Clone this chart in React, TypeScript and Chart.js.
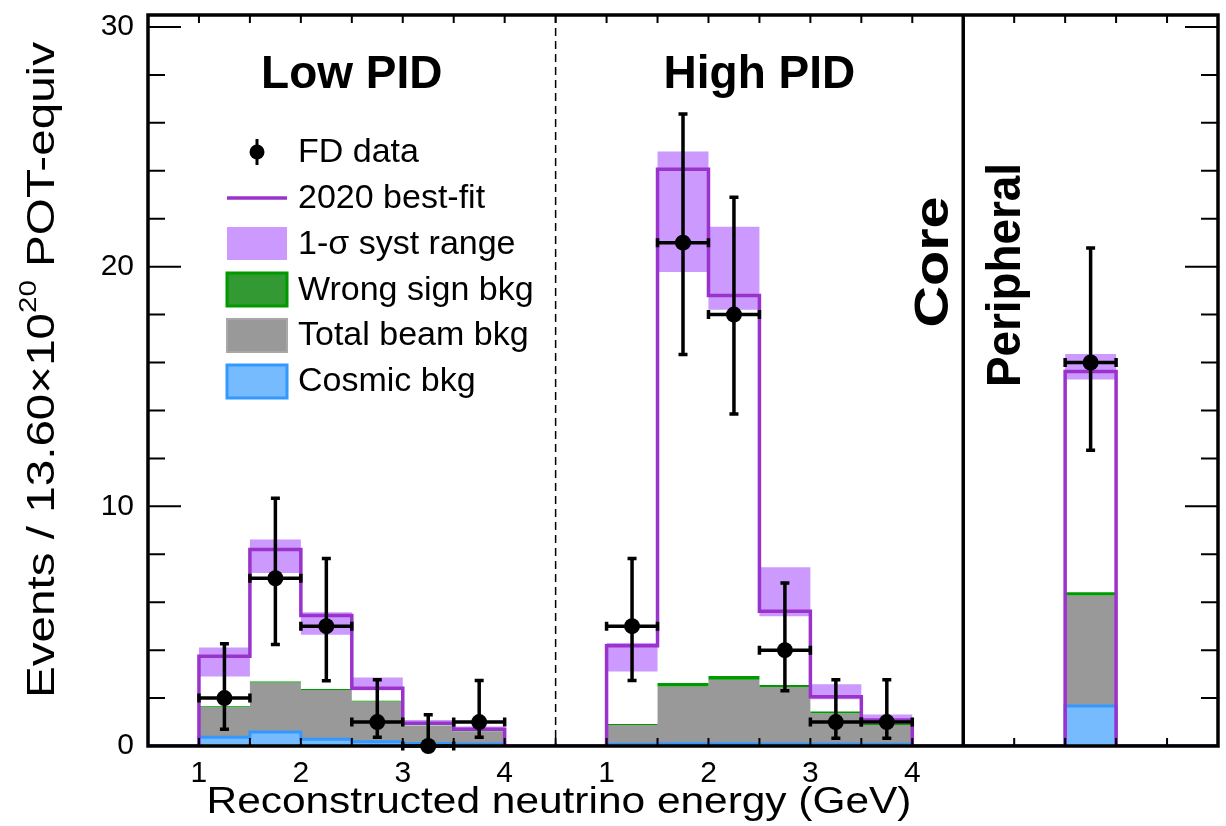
import React, { useEffect, useRef } from "react";
import { Chart, registerables } from "chart.js";

Chart.register(...registerables);

// ---------------- data ----------------
// energy bins (GeV): left edges, width 0.5
const binLowEdgesGeV = [1.0, 1.5, 2.0, 2.5, 3.0, 3.5];
const binWidthGeV = 0.5;
// offsets of the regions on the combined axis
const lowPidOffset = -0.5;
const highPidOffset = 3.5;
const peripheralBinStart = 9.0;
const axisMax = 10.5;

// 2020 best fit prediction
const lowBestFit = [3.74, 8.2, 5.44, 2.41, 0.95, 0.7];
const highBestFit = [4.18, 24.06, 18.8, 5.62, 2.06, 1.09];
const periphBestFit = 15.63;

// 1-sigma syst range
const lowSystUp = [4.11, 8.62, 5.58, 2.86, 1.09, 0.81];
const lowSystDown = [2.9, 7.22, 4.64, 2.33, 0.9, 0.62];
const highSystUp = [4.3, 24.8, 21.66, 7.46, 2.58, 1.31];
const highSystDown = [3.11, 19.78, 18.2, 5.41, 1.95, 1.0];
const periphSystUp = 16.36;
const periphSystDown = 15.29;

// total beam background
const lowBeamBkg = [1.62, 2.65, 2.34, 1.86, 0.84, 0.6];
const highBeamBkg = [0.88, 2.48, 2.76, 2.46, 1.37, 0.88];
const periphBeamBkg = 6.28;

// wrong sign background (thin layer on top of beam bkg)
const lowWrongSign = [0.04, 0.04, 0.04, 0.03, 0.02, 0.02];
const highWrongSign = [0.04, 0.15, 0.16, 0.08, 0.07, 0.05];
const periphWrongSign = 0.13;

// cosmic background
const lowCosmic = [0.36, 0.58, 0.28, 0.18, 0.1, 0.08];
const highCosmic = [0.07, 0.09, 0.09, 0.08, 0.08, 0.07];
const periphCosmic = 1.67;

// FD data with asymmetric error bounds
const lowData = [2, 7, 5, 1, 0, 1];
const lowDataHi = [4.27, 10.34, 7.82, 2.76, 1.3, 2.73];
const lowDataLo = [0.7, 4.23, 2.72, 0.36, 0, 0.36];
const highData = [5, 21, 18, 4, 1, 1];
const highDataHi = [7.82, 26.37, 22.9, 6.8, 2.76, 2.76];
const highDataLo = [2.73, 16.33, 13.85, 2.31, 0.32, 0.32];
const periphData = 16;
const periphDataHi = 20.78;
const periphDataLo = 12.34;

// axis ticks
const xTickEnergies = [1, 2, 3, 4];
const xTickLabels = ["1", "2", "3", "4"];
const yTickValues = [0, 10, 20, 30];

// ---------------- helpers ----------------
const FONT = '"Liberation Sans", Arial, Helvetica, sans-serif';
const PURPLE = "#9933cc";
const BAND = "#cc99ff";
const GRAY = "#999999";
const GREEN = "#009900";
const BLUE_FILL = "#77bbff";
const BLUE_LINE = "#3399ff";

type P = { x: number; y: number };

function stepSeries(low: number[], high: number[], periph: number): P[] {
  const pts: P[] = [{ x: 0, y: 0 }];
  low.forEach((v, i) => pts.push({ x: binLowEdgesGeV[i] + lowPidOffset, y: v }));
  pts.push({ x: binLowEdgesGeV[low.length - 1] + binWidthGeV + lowPidOffset, y: 0 });
  high.forEach((v, i) => pts.push({ x: binLowEdgesGeV[i] + highPidOffset, y: v }));
  pts.push({ x: binLowEdgesGeV[high.length - 1] + binWidthGeV + highPidOffset, y: 0 });
  pts.push({ x: peripheralBinStart, y: periph });
  pts.push({ x: peripheralBinStart + binWidthGeV, y: 0 });
  pts.push({ x: axisMax, y: 0 });
  return pts;
}

const add = (a: number[], b: number[]) => a.map((v, i) => v + b[i]);

type EP = { x: number; y: number; hi: number; lo: number };
const dataPoints: EP[] = [
  ...lowData.map((v, i) => ({
    x: binLowEdgesGeV[i] + binWidthGeV / 2 + lowPidOffset,
    y: v,
    hi: lowDataHi[i],
    lo: lowDataLo[i],
  })),
  ...highData.map((v, i) => ({
    x: binLowEdgesGeV[i] + binWidthGeV / 2 + highPidOffset,
    y: v,
    hi: highDataHi[i],
    lo: highDataLo[i],
  })),
  { x: peripheralBinStart + binWidthGeV / 2, y: periphData, hi: periphDataHi, lo: periphDataLo },
];

const xTickPositions = [
  ...xTickEnergies.map((e) => e + lowPidOffset),
  ...xTickEnergies.map((e) => e + highPidOffset),
];
const xTickText = [...xTickLabels, ...xTickLabels];

type Part = { t: string; s: number; dy: number };

function drawParts(
  ctx: CanvasRenderingContext2D,
  parts: Part[],
  fs: number,
  weight: string,
  cx: number,
  cy: number,
  rot: number,
  target: number
) {
  ctx.save();
  ctx.translate(cx, cy);
  ctx.rotate(rot);
  const widths = parts.map((p) => {
    ctx.font = `${weight} ${fs * p.s}px ${FONT}`;
    return ctx.measureText(p.t).width;
  });
  const W = widths.reduce((a, b) => a + b, 0);
  const k = target > 0 ? target / W : 1;
  ctx.scale(k, 1);
  ctx.textAlign = "left";
  ctx.textBaseline = "alphabetic";
  ctx.fillStyle = "#000";
  let x = -W / 2;
  parts.forEach((p, i) => {
    ctx.font = `${weight} ${fs * p.s}px ${FONT}`;
    ctx.fillText(p.t, x, p.dy * fs);
    x += widths[i];
  });
  ctx.restore();
}

function drawErrorBars(chart: any) {
  const ctx: CanvasRenderingContext2D = chart.ctx;
  const xs = chart.scales.x;
  const ys = chart.scales.y;
  const cap = 4.5;
  ctx.save();
  ctx.strokeStyle = "#000";
  ctx.lineWidth = 3.5;
  ctx.lineCap = "butt";
  dataPoints.forEach((p) => {
    const cx = xs.getPixelForValue(p.x);
    const cy = ys.getPixelForValue(p.y);
    const xl = xs.getPixelForValue(p.x - binWidthGeV / 2);
    const xr = xs.getPixelForValue(p.x + binWidthGeV / 2);
    const yh = ys.getPixelForValue(p.hi);
    const yl = ys.getPixelForValue(p.lo);
    ctx.beginPath();
    ctx.moveTo(xl, cy);
    ctx.lineTo(xr, cy);
    ctx.moveTo(xl, cy - cap);
    ctx.lineTo(xl, cy + cap);
    ctx.moveTo(xr, cy - cap);
    ctx.lineTo(xr, cy + cap);
    ctx.moveTo(cx, yh);
    ctx.lineTo(cx, yl);
    ctx.moveTo(cx - cap, yh);
    ctx.lineTo(cx + cap, yh);
    if (p.lo < p.y) {
      ctx.moveTo(cx - cap, yl);
      ctx.lineTo(cx + cap, yl);
    }
    ctx.stroke();
  });
  ctx.restore();
}

const decorPlugin = {
  id: "decor",
  beforeDatasetDraw(chart: any, args: any) {
    if (args.index === 0) drawErrorBars(chart);
  },
  afterDatasetsDraw(chart: any) {
    const ctx: CanvasRenderingContext2D = chart.ctx;
    const { left, right, top, bottom } = chart.chartArea;
    const xs = chart.scales.x;
    const ys = chart.scales.y;
    ctx.save();
    // separators
    const xDash = xs.getPixelForValue(4);
    ctx.strokeStyle = "#000";
    ctx.lineWidth = 1.5;
    ctx.setLineDash([8, 5]);
    ctx.beginPath();
    ctx.moveTo(xDash, top);
    ctx.lineTo(xDash, bottom);
    ctx.stroke();
    ctx.setLineDash([]);
    const xSolid = xs.getPixelForValue(8);
    ctx.lineWidth = 3.5;
    ctx.beginPath();
    ctx.moveTo(xSolid, top);
    ctx.lineTo(xSolid, bottom);
    ctx.stroke();

    // ticks
    ctx.lineWidth = 2;
    ctx.beginPath();
    for (let v = 0.5; v < axisMax; v += 0.5) {
      const px = xs.getPixelForValue(v);
      ctx.moveTo(px, bottom);
      ctx.lineTo(px, bottom - 8);
      ctx.moveTo(px, top);
      ctx.lineTo(px, top + 8);
    }
    for (let v = 2; v <= 30; v += 2) {
      const py = ys.getPixelForValue(v);
      const len = v % 10 === 0 ? 33 : 17;
      ctx.moveTo(left, py);
      ctx.lineTo(left + len, py);
      ctx.moveTo(right, py);
      ctx.lineTo(right - len, py);
    }
    ctx.stroke();

    // frame
    ctx.lineWidth = 3.5;
    ctx.strokeRect(left, top, right - left, bottom - top);
    ctx.restore();
  },
  afterDraw(chart: any) {
    const ctx: CanvasRenderingContext2D = chart.ctx;
    const xs = chart.scales.x;
    ctx.save();
    ctx.fillStyle = "#000";
    ctx.textBaseline = "alphabetic";
    ctx.textAlign = "center";
    ctx.font = `bold 46px ${FONT}`;
    ctx.fillText("Low PID", xs.getPixelForValue(2.0), 88);
    ctx.fillText("High PID", xs.getPixelForValue(6.0), 88);

    drawParts(ctx, [{ t: "Core", s: 1, dy: 0 }], 48, "bold", 948, 262, -Math.PI / 2, 131);
    drawParts(ctx, [{ t: "Peripheral", s: 1, dy: 0 }], 48, "bold", 1020, 275, -Math.PI / 2, 224);

    // axis titles
    drawParts(
      ctx,
      [
        { t: "Events / 13.60\u00d710", s: 1, dy: 0 },
        { t: "20", s: 0.62, dy: -0.45 },
        { t: " POT-equiv", s: 1, dy: 0 },
      ],
      39,
      "normal",
      54,
      370,
      -Math.PI / 2,
      656
    );
    drawParts(
      ctx,
      [{ t: "Reconstructed neutrino energy (GeV)", s: 1, dy: 0 }],
      36,
      "normal",
      559,
      813,
      0,
      705
    );

    // legend
    const bx = 227;
    const bw = 60;
    const tx = 298;
    ctx.textAlign = "left";
    ctx.font = `34px ${FONT}`;
    // FD data
    ctx.strokeStyle = "#000";
    ctx.lineWidth = 3;
    ctx.beginPath();
    ctx.moveTo(257, 139);
    ctx.lineTo(257, 165);
    ctx.stroke();
    ctx.beginPath();
    ctx.arc(257, 152, 7.5, 0, Math.PI * 2);
    ctx.fill();
    ctx.fillText("FD data", tx, 162);
    // best fit
    ctx.strokeStyle = PURPLE;
    ctx.lineWidth = 3.5;
    ctx.beginPath();
    ctx.moveTo(bx, 198);
    ctx.lineTo(bx + bw, 198);
    ctx.stroke();
    ctx.fillText("2020 best-fit", tx, 208);
    // syst
    ctx.fillStyle = BAND;
    ctx.fillRect(bx, 227, bw, 33);
    ctx.fillStyle = "#000";
    ctx.fillText("1-\u03c3 syst range", tx, 254);
    // wrong sign
    ctx.fillStyle = "#339933";
    ctx.fillRect(bx, 273, bw, 33);
    ctx.strokeStyle = GREEN;
    ctx.lineWidth = 3;
    ctx.strokeRect(bx, 273, bw, 33);
    ctx.fillStyle = "#000";
    ctx.fillText("Wrong sign bkg", tx, 300);
    // total beam
    ctx.fillStyle = GRAY;
    ctx.fillRect(bx, 319, bw, 33);
    ctx.strokeStyle = "#a8a8a8";
    ctx.lineWidth = 2;
    ctx.strokeRect(bx, 319, bw, 33);
    ctx.fillStyle = "#000";
    ctx.fillText("Total beam bkg", tx, 345);
    // cosmic
    ctx.fillStyle = BLUE_FILL;
    ctx.fillRect(bx, 365, bw, 33);
    ctx.strokeStyle = BLUE_LINE;
    ctx.lineWidth = 3;
    ctx.strokeRect(bx, 365, bw, 33);
    ctx.fillStyle = "#000";
    ctx.fillText("Cosmic bkg", tx, 391);
    ctx.restore();
  },
};

export default function App() {
  const canvasRef = useRef<HTMLCanvasElement | null>(null);

  useEffect(() => {
    if (!canvasRef.current) return;
    const beam = stepSeries(lowBeamBkg, highBeamBkg, periphBeamBkg);
    const wrong = stepSeries(
      add(lowBeamBkg, lowWrongSign),
      add(highBeamBkg, highWrongSign),
      periphBeamBkg + periphWrongSign
    );
    const stepBase = {
      stepped: true as const,
      pointRadius: 0,
      pointHoverRadius: 0,
      tension: 0,
    };
    const chart = new Chart(canvasRef.current, {
      type: "line",
      data: {
        datasets: [
          {
            label: "FD data",
            data: dataPoints.map((p) => ({ x: p.x, y: p.y })),
            showLine: false,
            pointRadius: 8,
            pointHoverRadius: 8,
            pointBackgroundColor: "#000",
            pointBorderColor: "#000",
            pointBorderWidth: 0,
            borderColor: "#000",
            order: 0,
            clip: false as any,
          },
          {
            ...stepBase,
            label: "2020 best-fit",
            data: stepSeries(lowBestFit, highBestFit, periphBestFit),
            borderColor: PURPLE,
            borderWidth: 3.5,
            fill: false,
            order: 1,
          },
          {
            ...stepBase,
            label: "Cosmic bkg",
            data: stepSeries(lowCosmic, highCosmic, periphCosmic),
            borderColor: BLUE_LINE,
            borderWidth: 3,
            backgroundColor: BLUE_FILL,
            fill: "origin",
            order: 2,
          },
          {
            ...stepBase,
            label: "Wrong sign bkg",
            data: wrong,
            borderColor: "transparent",
            borderWidth: 0,
            backgroundColor: GREEN,
            fill: 4,
            order: 3,
          },
          {
            ...stepBase,
            label: "Total beam bkg",
            data: beam,
            borderColor: "transparent",
            borderWidth: 0,
            backgroundColor: GRAY,
            fill: "origin",
            order: 4,
          },
          {
            ...stepBase,
            label: "1-sigma syst range",
            data: stepSeries(lowSystUp, highSystUp, periphSystUp),
            borderColor: "transparent",
            borderWidth: 0,
            backgroundColor: BAND,
            fill: 6,
            order: 5,
          },
          {
            ...stepBase,
            label: "syst low",
            data: stepSeries(lowSystDown, highSystDown, periphSystDown),
            borderColor: "transparent",
            borderWidth: 0,
            fill: false,
            order: 6,
          },
        ],
      },
      options: {
        animation: false,
        responsive: false,
        maintainAspectRatio: false,
        events: [],
        layout: { padding: { top: 15, right: 3, left: 0, bottom: 0 } },
        plugins: {
          legend: { display: false },
          tooltip: { enabled: false },
          title: { display: false },
        },
        scales: {
          x: {
            type: "linear",
            min: 0,
            max: axisMax,
            grid: { display: false, drawTicks: false },
            border: { display: false },
            afterBuildTicks: (s: any) => {
              s.ticks = xTickPositions.map((v) => ({ value: v }));
            },
            afterFit: (s: any) => {
              s.height = 80;
              s.paddingLeft = 0;
              s.paddingRight = 0;
            },
            ticks: {
              autoSkip: false,
              maxRotation: 0,
              minRotation: 0,
              padding: 10,
              color: "#000",
              font: { family: FONT, size: 30 },
              callback: (_v: any, i: number) => xTickText[i],
            },
          },
          y: {
            type: "linear",
            min: 0,
            max: 30.5,
            grid: { display: false, drawTicks: false },
            border: { display: false },
            afterBuildTicks: (s: any) => {
              s.ticks = yTickValues.map((v) => ({ value: v }));
            },
            afterFit: (s: any) => {
              s.width = 148;
              s.paddingTop = 0;
              s.paddingBottom = 0;
            },
            ticks: {
              padding: 14,
              color: "#000",
              font: { family: FONT, size: 30 },
              callback: (v: any) => String(v),
            },
          },
        },
      } as any,
      plugins: [decorPlugin],
    });
    return () => chart.destroy();
  }, []);

  return (
    <div style={{ position: "fixed", left: 0, top: 0, width: 1226, height: 826, background: "#fff" }}>
      <canvas ref={canvasRef} width={1226} height={826} style={{ display: "block" }} />
    </div>
  );
}
